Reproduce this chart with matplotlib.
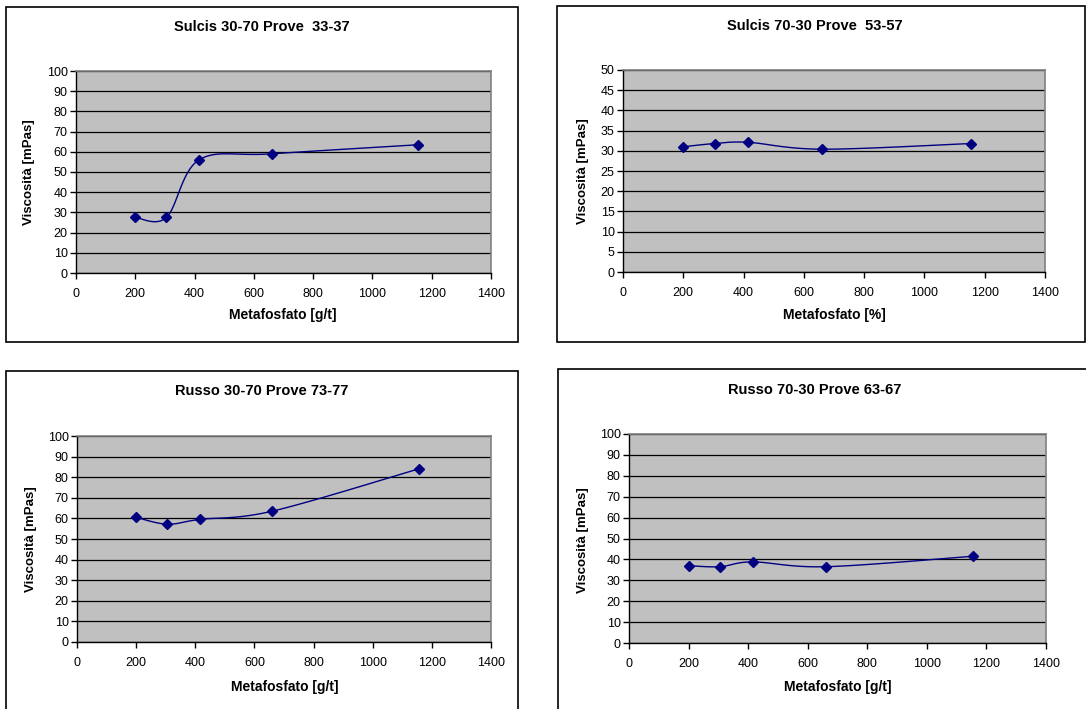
import numpy as np
import matplotlib.pyplot as plt
from matplotlib.patches import Rectangle

plt.rcParams['font.family'] = ['Liberation Sans', 'DejaVu Sans']

# data
metafosfato = [200, 305, 415, 660, 1155]
visc_sulcis_3070 = [27.5, 27.5, 56.0, 59.0, 63.5]
visc_sulcis_7030 = [31.0, 31.8, 32.1, 30.4, 31.8]
visc_russo_3070 = [60.5, 57.2, 59.5, 63.5, 84.0]
visc_russo_7030 = [37.0, 36.5, 38.8, 36.5, 41.5]

titles = ["Sulcis 30-70 Prove  33-37", "Sulcis 70-30 Prove  53-57",
          "Russo 30-70 Prove 73-77", "Russo 70-30 Prove 63-67"]
xlabels = ["Metafosfato [g/t]", "Metafosfato [%]", "Metafosfato [g/t]", "Metafosfato [g/t]"]
ylabel = "Viscosità [mPas]"
series = [visc_sulcis_3070, visc_sulcis_7030, visc_russo_3070, visc_russo_7030]
ymax = [100, 50, 100, 100]
ystep = [10, 5, 10, 10]

W, H = 1086, 709
fig = plt.figure(figsize=(W / 100, H / 100), dpi=100)


def px(x, y):
    return x / W, 1 - y / H


def smooth(x, y, n=30):
    # excel-style smoothed line: cubic bezier with catmull-rom tangents
    x = np.asarray(x, float)
    y = np.asarray(y, float)
    p = np.column_stack([x, y])
    pts = []
    for i in range(len(p) - 1):
        p0 = p[i - 1] if i > 0 else p[i]
        p3 = p[i + 2] if i + 2 < len(p) else p[i + 1]
        c1 = p[i] + (p[i + 1] - p0) / 6
        c2 = p[i + 1] - (p3 - p[i]) / 6
        t = np.linspace(0, 1, n)[:, None]
        seg = ((1 - t) ** 3) * p[i] + 3 * ((1 - t) ** 2) * t * c1 + 3 * (1 - t) * t ** 2 * c2 + t ** 3 * p[i + 1]
        pts.append(seg)
    pts = np.vstack(pts)
    return pts[:, 0], pts[:, 1]


# panel layout in pixels: box, plot area, title pos, xlabel pos, ylabel pos
boxes = [(6, 7, 518, 342), (557, 6, 1085, 342), (6, 371, 518, 712), (558, 369, 1090, 712)]
areas = [(76, 71, 491, 273), (623, 70, 1045, 272), (77, 436, 491, 642), (629, 434, 1046, 643)]
title_pos = [(262, 27), (815, 26), (262, 391), (815, 390)]
xlab_pos = [(283, 315), (834, 315), (285, 687), (838, 687)]
ylab_pos = [(29, 172), (583, 171), (31, 539), (583, 540)]

for k in range(4):
    x0, y0, x1, y1 = boxes[k]
    fig.patches.append(Rectangle(px(x0, y1), (x1 - x0) / W, (y1 - y0) / H,
                                 transform=fig.transFigure, fill=False,
                                 edgecolor='black', linewidth=1.2))
    a0, b0, a1, b1 = areas[k]
    ax = fig.add_axes([a0 / W, 1 - b1 / H, (a1 - a0) / W, (b1 - b0) / H])
    ax.set_facecolor('#c0c0c0')
    ax.set_xlim(0, 1400)
    ax.set_ylim(0, ymax[k])
    ax.set_xticks(np.arange(0, 1401, 200))
    ax.set_yticks(np.arange(0, ymax[k] + 1, ystep[k]))
    ax.yaxis.grid(True, color='black', linewidth=0.9)
    ax.set_axisbelow(True)
    for s in ['top', 'right']:
        ax.spines[s].set_color('#808080')
        ax.spines[s].set_linewidth(1.2)
    for s in ['left', 'bottom']:
        ax.spines[s].set_color('black')
        ax.spines[s].set_linewidth(1)
    ax.tick_params(direction='out', length=4, width=1, labelsize=9, pad=2)
    ax.tick_params(axis='x', pad=7)

    sx, sy = smooth(metafosfato, series[k])
    ax.plot(sx, sy, color='#000080', linewidth=1, clip_on=False)
    ax.plot(metafosfato, series[k], linestyle='none', marker='D', markersize=5.5,
            color='#000080', clip_on=False)

    tx, ty = title_pos[k]
    fig.text(*px(tx, ty), titles[k], ha='center', va='center', fontsize=10.5, fontweight='bold')
    lx, ly = xlab_pos[k]
    fig.text(*px(lx, ly), xlabels[k], ha='center', va='center', fontsize=10, fontweight='bold')
    vx, vy = ylab_pos[k]
    fig.text(*px(vx, vy), ylabel, ha='center', va='center', rotation=90, fontsize=9.5, fontweight='bold')

fig.savefig('out.png', dpi=100)
